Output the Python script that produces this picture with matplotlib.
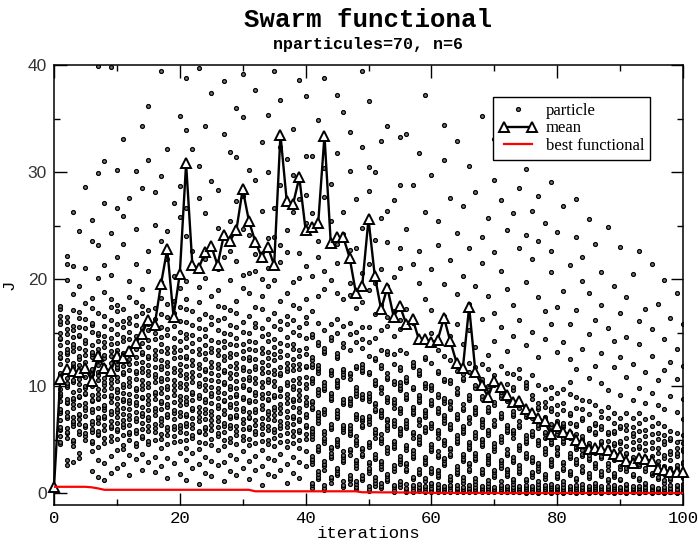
import matplotlib
matplotlib.use("Agg")
import matplotlib.pyplot as plt
from matplotlib.lines import Line2D
from matplotlib.legend_handler import HandlerLine2D

# ---------------- data ----------------
iterations = list(range(101))

mean_J = [0.6, 10.7, 11.6, 11.4, 11.3, 11.7, 10.5, 12.8, 11.7, 11.4,
          12.8, 12.6, 13.3, 14.0, 14.9, 16.2, 15.7, 19.5, 22.8, 16.5,
          20.5, 30.8, 21.3, 21.0, 22.5, 23.1, 21.3, 24.1, 23.6, 24.6,
          28.4, 25.4, 23.5, 22.1, 23.0, 21.3, 33.5, 27.3, 27.0, 29.5,
          24.6, 24.9, 25.2, 33.4, 23.4, 23.9, 23.9, 22.0, 18.7, 19.4,
          25.6, 20.3, 17.2, 19.2, 16.5, 17.5, 15.8, 16.3, 14.4, 14.4,
          14.1, 14.3, 16.4, 14.2, 12.2, 11.7, 17.4, 11.3, 10.1, 9.0,
          10.5, 9.9, 9.2, 8.5, 8.6, 7.9, 7.5, 7.0, 6.7, 5.5,
          6.3, 5.7, 5.5, 5.0, 4.7, 4.1, 4.2, 4.1, 4.0, 3.7,
          3.5, 3.0, 2.8, 3.3, 3.2, 3.0, 2.3, 2.2, 2.0, 2.0,
          2.0]

best_J = [0.60, 0.60, 0.60, 0.60, 0.60, 0.60, 0.55, 0.45, 0.32, 0.32,
          0.32, 0.32, 0.32, 0.32, 0.32, 0.32, 0.32, 0.32, 0.32, 0.32,
          0.32, 0.32, 0.32, 0.32, 0.32, 0.32, 0.32, 0.32, 0.32, 0.32,
          0.32, 0.32, 0.18, 0.18, 0.18, 0.18, 0.18, 0.18, 0.18, 0.18,
          0.18, 0.18, 0.18, 0.18, 0.18, 0.18, 0.18, 0.18, 0.18, 0.09,
          0.09, 0.09, 0.08, 0.08, 0.08, 0.07, 0.07, 0.06, 0.06, 0.05,
          0.03, 0.03, 0.03, 0.03, 0.03, 0.03, 0.03, 0.03, 0.03, 0.03,
          0.02, 0.02, 0.02, 0.02, 0.02, 0.02, 0.02, 0.02, 0.02, 0.02,
          0.02, 0.02, 0.02, 0.02, 0.02, 0.02, 0.02, 0.02, 0.02, 0.02,
          0.02, 0.02, 0.02, 0.02, 0.02, 0.02, 0.02, 0.02, 0.02, 0.02,
          0.02]

# particle functional values, in tenths, one string per iteration
particles_000_010 = [
    "6 6 5 6 7",
    "46 48 53 59 60 62 68 75 77 79 86 91 92 94 97 105 109 110 112 121 126 127 131 138 144 145 150 158 161 166 172 175",
    "26 31 52 56 57 61 70 72 76 84 85 88 99 101 103 108 115 116 124 130 132 135 141 149 153 160 165 199 214 222",
    "29 44 48 50 63 66 67 71 80 83 87 89 95 104 106 113 118 119 122 133 137 139 146 152 156 171 186 212 263",
    "33 38 55 58 65 69 73 74 82 90 91 96 102 107 111 114 120 125 128 136 147 148 155 164 169 194 245",
    "50 53 56 62 64 72 78 81 84 93 94 98 100 109 117 118 123 129 134 140 143 154 163 178 210 286",
    "21 39 47 49 57 60 65 67 76 79 86 87 92 100 102 111 115 116 127 130 132 138 151 157 159 173 182 236 255",
    "15 31 43 54 55 58 66 69 71 80 88 89 93 97 106 110 113 120 124 131 135 142 148 150 168 201 232 299 399",
    "12 28 47 52 59 64 70 72 78 81 82 91 96 101 104 108 117 119 126 129 137 141 147 156 166 188 213 271 310",
    "19 35 49 53 61 63 67 74 77 85 90 92 98 103 107 112 114 122 128 133 139 145 153 162 174 181 204 243 398",
    "24 40 51 58 60 66 71 76 79 83 89 95 97 105 109 116 118 121 130 134 140 149 158 170 176 221 266 302",
]
particles_011_020 = [
    "27 41 45 54 62 65 68 74 80 86 88 94 99 102 111 113 119 124 129 131 142 146 155 161 172 233 259 331",
    "17 36 50 55 57 64 69 73 79 84 87 93 100 104 108 115 121 125 133 136 144 151 159 164 183 198 276",
    "32 44 47 56 59 67 70 76 82 85 91 96 98 107 112 114 122 127 135 138 147 157 166 179 214 247 301",
    "22 37 52 53 60 66 72 75 81 89 90 97 101 106 113 117 123 130 132 140 149 154 168 175 191 285 343",
    "29 46 49 58 63 68 71 78 83 87 92 99 103 110 114 120 126 128 137 143 152 158 171 208 226 311 362",
    "20 34 50 57 61 65 73 77 80 88 93 95 104 109 111 118 125 129 134 144 150 163 173 251 281",
    "25 42 51 55 64 67 70 79 84 86 94 98 105 108 116 119 124 133 139 146 155 167 182 197 236 296 394",
    "14 33 46 54 59 62 71 74 81 83 90 97 100 107 112 119 123 131 136 148 153 165 177 219 245 322",
    "28 48 53 60 63 69 75 78 85 92 96 101 106 113 117 126 132 137 145 156 168 180 203 271",
    "18 38 49 57 61 64 72 76 82 87 91 99 103 110 115 121 127 134 142 151 161 174 192 258 287 352",
]
particles_021_030 = [
    "12 31 42 50 56 63 66 72 74 83 86 90 97 102 108 111 119 126 128 137 145 149 160 172 181 198 240 266 339 388",
    "24 38 52 54 61 65 70 78 80 87 93 95 104 109 113 120 124 133 140 148 157 170 211 226 322",
    "9 27 41 48 57 58 67 71 76 81 89 92 100 103 110 117 121 130 135 144 154 163 179 193 276 306 397",
    "19 34 47 55 60 62 69 75 79 85 88 96 101 107 114 116 125 131 138 147 153 167 201 219 262 343",
    "16 30 45 51 59 64 68 73 77 84 91 94 99 106 112 118 123 132 136 143 158 165 184 231 292 374",
    "26 40 53 56 62 67 71 80 82 89 95 98 105 110 117 121 129 134 141 152 162 175 190 209 248 283",
    "11 29 44 50 57 63 66 74 78 86 87 94 102 104 113 115 124 128 137 142 150 164 174 221 242 336 385",
    "21 36 48 52 61 64 70 72 81 83 90 97 100 108 112 119 127 131 139 149 157 171 199 226 254 319",
    "17 32 46 54 58 63 71 73 79 84 91 93 98 105 111 117 122 130 138 145 155 168 180 217 273 314 360",
    "24 39 50 53 60 66 69 77 80 88 90 99 101 107 115 118 126 133 139 151 160 192 204 247 278 351 392",
]
particles_031_040 = [
    "13 30 45 51 60 62 70 71 76 85 87 96 97 106 109 114 124 127 135 142 150 166 187 206 241 302",
    "22 35 47 55 58 64 68 76 79 86 92 95 103 108 116 119 125 134 141 155 159 174 208 223 293 377",
    "8 25 40 49 55 61 65 70 79 82 89 93 99 104 112 117 123 131 136 147 154 172 184 200 264 328",
    "18 33 46 50 59 63 69 74 77 87 88 94 104 107 113 120 126 132 142 149 163 194 210 238 300 353",
    "16 31 44 52 57 60 68 73 78 81 90 92 100 105 111 115 124 130 137 144 156 168 199 239 266 394",
    "22 37 48 54 61 64 67 75 80 83 91 96 98 110 112 118 127 133 140 153 161 180 216 232 288 323 367",
    "10 27 43 49 56 62 66 71 77 84 89 93 101 104 114 117 122 129 138 146 158 166 187 225 246 312",
    "19 34 47 53 58 65 70 72 81 86 88 97 100 106 115 120 125 135 139 151 162 176 197 263 297 340",
    "14 29 42 50 57 59 67 69 76 80 87 92 96 103 108 116 121 128 134 148 155 173 201 224 275 386",
    "25 39 51 55 62 64 71 74 82 85 90 98 102 109 118 119 130 136 145 159 165 181 212 252 279 315 371",
]
particles_041_050 = [
    "5 8 10 27 30 32 35 51 53 56 58 61 79 81 84 86 103 106 108 118 121 124 127 146 149 170 203 262 315",
    "13 15 18 21 39 41 44 66 68 71 73 76 92 95 97 112 115 117 120 138 141 159 184 221 236 349",
    "3 5 8 22 25 27 30 47 50 52 55 58 74 77 79 96 98 101 104 131 133 136 152 191 208 277 304 388",
    "10 13 15 33 35 38 41 43 60 62 65 87 89 92 94 110 113 115 143 146 158 199 254 289",
    "17 19 22 24 44 46 49 51 70 72 75 78 99 101 104 106 126 128 131 150 163 187 215 233 318 372",
    "6 8 11 29 31 34 36 39 57 60 62 64 83 85 88 109 111 114 116 137 140 156 181 242 263 356",
    "9 12 14 17 36 39 41 54 56 59 61 64 82 84 87 89 107 110 112 134 149 159 185 196 227 301 337",
    "4 6 9 11 24 26 29 31 45 48 50 53 69 72 74 91 94 96 99 117 119 141 151 173 229 275",
    "12 14 17 35 37 40 42 62 64 67 69 71 88 90 93 113 115 118 121 136 144 155 179 206 248 323 394",
    "2 4 7 19 22 24 27 29 43 46 48 65 67 70 72 86 89 91 94 111 113 128 141 155 190 214 282 305 366",
]
particles_051_060 = [
    "7 10 12 15 32 34 37 52 55 57 60 77 79 82 84 101 103 106 124 126 145 167 196 237 300",
    "5 7 10 23 25 28 30 47 50 52 55 71 73 76 78 94 97 99 117 120 134 152 176 209 257 329",
    "11 13 16 18 38 40 43 59 62 64 67 69 85 88 90 107 109 112 130 133 156 165 194 235 264 343",
    "1 3 6 8 21 24 26 42 44 47 49 63 66 68 80 83 85 88 102 105 121 130 147 170 202 274",
    "6 9 11 27 30 32 35 54 56 59 61 75 78 80 96 98 101 104 115 118 134 153 162 210 229 288 333",
    "1 2 4 5 9 21 23 26 28 40 43 45 61 63 66 68 88 90 93 104 106 109 131 172 247 336",
    "1 3 6 8 13 15 33 35 38 40 52 55 57 74 76 79 81 97 99 118 120 123 159 214 288",
    "2 4 6 9 18 20 23 46 48 51 53 64 67 69 85 87 90 92 110 112 115 143 196 226 318",
    "1 2 5 7 11 14 27 29 32 34 57 59 62 71 73 76 78 98 101 103 125 127 181 263 372",
    "1 3 5 8 10 19 21 24 39 41 44 46 61 64 66 82 84 87 96 99 101 122 150 171 209 297",
]
particles_061_070 = [
    "1 2 4 6 9 15 17 20 22 34 36 39 52 55 57 59 75 77 80 90 93 112 114 134 232 254",
    "1 3 5 7 26 28 31 33 45 48 50 66 68 71 73 84 87 89 105 107 128 166 195 311 344",
    "1 2 3 6 8 11 13 16 35 37 40 42 60 62 65 79 81 84 86 103 106 124 147 218 276",
    "1 2 4 5 8 18 20 23 25 47 49 52 54 69 71 74 93 95 98 114 120 158 186 243 329",
    "1 3 4 6 10 12 15 30 32 35 37 56 58 61 63 78 80 83 106 108 111 139 203 268",
    "1 2 3 5 8 21 23 26 28 41 43 46 48 66 69 71 87 89 92 113 122 152 177 229 306",
    "1 2 4 6 9 11 14 31 33 36 38 52 54 57 74 76 79 81 98 101 118 137 194 281",
    "1 2 3 5 7 18 20 23 44 46 49 51 62 65 67 69 88 91 104 107 121 163 215 239 352",
    "1 2 3 5 7 10 12 27 29 32 34 36 54 57 59 76 78 81 97 100 116 129 184 257",
    "1 2 3 4 6 15 17 20 22 39 42 44 47 63 65 68 82 85 101 110 142 168 225 293 331",
]
particles_071_080 = [
    "1 2 3 4 6 8 11 24 26 29 31 48 51 53 70 72 75 89 92 95 119 155 208 274",
    "1 1 2 3 5 7 16 18 21 23 36 38 41 57 59 62 64 86 88 102 112 133 191 246 317",
    "1 2 3 4 6 9 11 13 29 31 34 52 55 57 59 72 74 77 96 99 111 147 176 262",
    "1 1 2 3 5 7 19 21 24 26 40 43 45 62 64 67 80 82 85 108 116 162 229 285",
    "0 1 2 3 4 6 8 11 13 33 35 38 47 49 52 54 71 74 98 101 104 138 197 241 303",
    "1 1 2 3 5 7 15 18 20 29 31 34 53 55 58 70 72 75 88 92 110 151 219 264",
    "0 1 2 3 4 6 9 11 21 24 26 28 45 48 50 61 64 79 81 84 101 127 183 236 278",
    "1 1 2 3 4 6 8 13 16 18 37 39 42 52 55 57 69 71 81 85 97 144 170 252",
    "0 1 2 3 4 5 7 9 25 27 30 32 46 48 51 62 65 77 80 89 99 158 207 226 291",
    "1 1 2 3 4 5 7 14 16 19 36 38 41 43 55 58 65 67 74 82 94 132 174 244",
]
particles_081_090 = [
    "0 1 1 2 3 4 6 9 11 22 24 27 29 47 49 52 62 64 66 78 84 97 141 189 268",
    "1 1 2 2 3 5 7 17 19 21 33 35 38 52 54 57 66 73 75 93 104 125 158 213",
    "0 1 1 2 3 4 6 8 12 14 27 29 32 41 43 46 55 63 65 80 90 116 171 239 275",
    "1 1 2 2 3 4 6 9 20 22 25 35 37 40 49 51 53 68 70 79 87 135 198 221",
    "0 1 1 2 3 4 5 7 14 16 19 31 33 36 44 47 59 61 74 86 108 149 187 256",
    "1 1 1 2 3 4 6 8 10 24 26 28 38 40 43 55 57 64 66 82 119 162 233",
    "0 1 1 2 2 3 5 7 16 18 21 33 35 40 47 49 60 63 71 77 103 131 176 207",
    "1 1 1 2 3 4 5 7 11 13 22 25 28 41 43 49 55 57 70 81 96 154 249",
    "0 1 1 2 2 3 4 6 8 15 17 19 31 33 38 45 47 56 58 66 75 118 142 194",
    "1 1 1 2 2 3 4 6 12 13 23 25 34 35 41 47 49 61 63 70 92 127 168 230",
]
particles_091_100 = [
    "0 1 1 1 2 3 4 5 8 9 21 24 27 37 38 44 52 59 64 75 109 146 183",
    "1 1 1 2 2 3 4 5 7 16 18 29 31 34 41 48 53 56 62 70 87 121 205",
    "0 1 1 1 2 3 3 5 7 12 14 25 27 30 42 44 50 58 66 75 98 139 161 226",
    "1 1 1 2 2 2 3 4 6 9 10 21 24 33 34 40 47 53 59 69 84 113 172",
    "0 1 1 1 2 2 3 4 6 7 17 19 28 29 35 42 48 55 63 71 94 128 153 214",
    "1 1 1 1 2 2 3 4 5 13 15 22 26 30 38 42 51 56 66 82 106 177",
    "0 1 1 1 2 2 3 4 6 10 12 18 22 25 33 36 46 49 54 63 79 115 144 199",
    "1 1 1 1 2 2 3 3 5 8 12 14 20 24 31 37 39 50 52 58 91 123 164",
    "0 1 1 1 1 2 2 3 4 7 8 17 19 24 26 35 38 42 48 56 76 107 135 187",
    "1 1 1 1 2 2 3 3 4 6 9 14 16 22 27 29 39 41 47 54 69 88 119 158",
]

x_ticks = [0, 20, 40, 60, 80, 100]
x_minor = [10, 30, 50, 70, 90]
y_ticks = [0, 10, 20, 30, 40]
y_minor = [5, 15, 25, 35]

title = "Swarm functional"
subtitle = "nparticules=70, n=6"
x_label = "iterations"
y_label = "J"
legend_labels = ["particle", "mean", "best functional"]

# ---------------- figure ----------------
particle_columns = (particles_000_010 + particles_011_020 + particles_021_030 +
                    particles_031_040 + particles_041_050 + particles_051_060 +
                    particles_061_070 + particles_071_080 + particles_081_090 +
                    particles_091_100)
assert len(particle_columns) == len(iterations) == len(mean_J) == len(best_J)

px, py = [], []
for it, col in zip(iterations, particle_columns):
    for v in col.split():
        px.append(it)
        py.append(int(v) / 10.0)

W, H = 698, 544
fig = plt.figure(figsize=(W / 100, H / 100), dpi=100)
ax_l, ax_r, ax_t, ax_b = 54, 683, 65, 505
ax = fig.add_axes([ax_l / W, 1 - ax_b / H, (ax_r - ax_l) / W, (ax_b - ax_t) / H])

dot_style = dict(linestyle="none", marker="o", ms=2.8, mfc="#777777",
                 mec="black", mew=0.9)
ax.plot(px, py, zorder=2, **dot_style)
ax.plot(iterations, mean_J, color="black", lw=1.7, marker="^", ms=7.5,
        mfc="white", mec="black", mew=1.4, zorder=3, clip_on=False)
ax.plot(iterations, best_J, color="red", lw=1.6, zorder=4)

ax.set_xlim(0, 100)
ax.set_ylim(-1.1, 40)
ax.set_xticks(x_ticks)
ax.set_xticks(x_minor, minor=True)
ax.set_yticks(y_ticks)
ax.set_yticks(y_minor, minor=True)
ax.tick_params(which="both", direction="in", top=True, right=True, width=1.0)
ax.tick_params(which="major", length=9)
ax.tick_params(which="minor", length=4.5)
ax.tick_params(axis="x", which="major", pad=4)
ax.tick_params(axis="y", which="major", pad=5)
for sp in ax.spines.values():
    sp.set_linewidth(1.1)

for lab in ax.get_xticklabels():
    lab.set_fontfamily("Liberation Mono")
    lab.set_fontsize(12.5)
for lab in ax.get_yticklabels():
    lab.set_fontfamily("Liberation Sans")
    lab.set_fontsize(12.5)
    lab.set_color("#333333")

ax.set_xlabel(x_label, fontfamily="Liberation Mono", fontsize=12.5)
ax.xaxis.set_label_coords(0.5, -(526 - ax_b) / (ax_b - ax_t))
ax.set_ylabel(y_label, fontfamily="Liberation Mono", fontsize=12.5)
ax.yaxis.set_label_coords(-(ax_l - 17) / (ax_r - ax_l), 0.5)

fig.text(368 / W, 1 - 20 / H, title, ha="center", va="center",
         fontfamily="Liberation Mono", fontweight="bold", fontsize=18.5)
fig.text(368 / W, 1 - 45 / H, subtitle, ha="center", va="center",
         fontfamily="Liberation Mono", fontweight="bold", fontsize=12)

h_part = Line2D([], [], **dot_style)
h_mean = Line2D([], [], color="black", lw=1.7, marker="^", ms=7.5,
                mfc="white", mec="black", mew=1.4)
h_best = Line2D([], [], color="red", lw=1.6)
leg = ax.legend([h_part, h_mean, h_best], legend_labels,
                loc="upper left",
                bbox_to_anchor=((493 - ax_l) / (ax_r - ax_l), (ax_b - 97) / (ax_b - ax_t)),
                borderaxespad=0, prop={"family": "Liberation Serif", "size": 12},
                frameon=True, fancybox=False, framealpha=1, edgecolor="black",
                handlelength=2.3, handletextpad=0.5, labelspacing=0.1,
                borderpad=0.35, numpoints=2,
                handler_map={h_part: HandlerLine2D(numpoints=1)})
leg.get_frame().set_linewidth(1.0)
leg.set_zorder(10)

fig.savefig("out.png", dpi=100)
